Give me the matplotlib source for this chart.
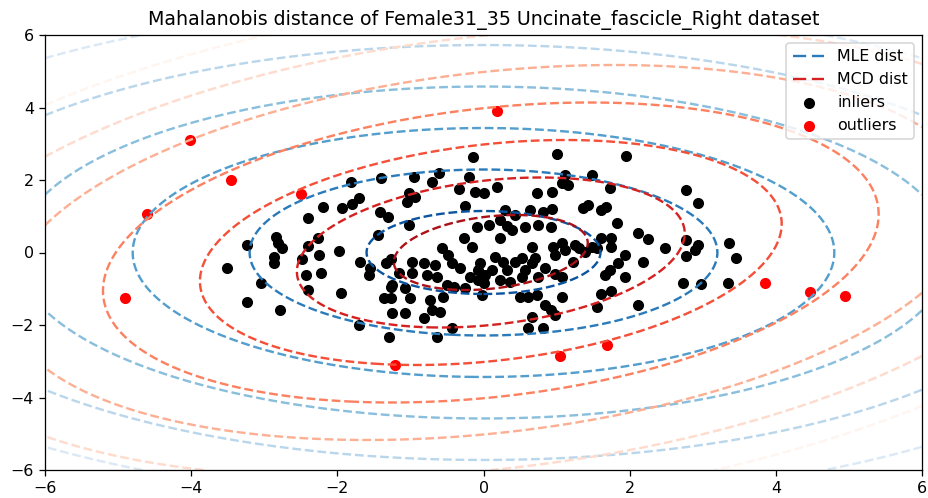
import numpy as np
import matplotlib
matplotlib.use("Agg")
import matplotlib.pyplot as plt

# inliers (x, y)
inliers_x = [-1.81, -1.40, -1.70, -1.80, -1.94, -2.20, -2.40, -1.42, -1.30,
             -2.84, -2.81, -2.76, -3.24, -2.26, -2.40, -2.25, -1.98, -2.86, -2.86,
             -3.51, -2.48, -2.43, -2.23, -1.69, -1.44, -1.34, -1.26, -1.55, -1.57,
             -3.05, -2.40, -1.95, -1.27, -1.36, -1.26, -3.24, -2.79, -1.25, -1.70, -1.29,
             -0.14, 1.01, -0.95, -0.71, -0.61, -0.20, -0.34, -0.12, 0.01, 0.18,
             -1.02, -1.05, -0.94, 0.73, 0.94, -0.25, 0.30, 0.43, 0.64, 0.82, 0.94,
             -1.02, -0.09, 0.07, 0.23, 0.32, 0.57, 0.75, 0.93,
             -0.27, -0.16, 0.23, 1.07, 0.95, 1.11, -0.57, -0.48, -0.43, -0.98, -0.82,
             -0.66, -0.32, -0.05, 0.16, 0.27, 0.32, 0.43, 0.52, 0.66, 0.98, -1.16,
             -0.98, -0.77, -0.64, -0.50, -0.41, -0.18, -0.07, 0.02, 0.00, 0.23, 0.36,
             0.52, 0.57, 0.75, 1.07, -1.25, -1.07, -1.00, -0.73, -0.55, -0.25, -0.02,
             0.50, 0.61, 0.73, 1.07, -0.71, -0.59, -0.82, -1.07, 0.84, 0.93, 0.98,
             0.66, -0.43, -0.64, 0.61, 0.82,
             1.95, 1.11, 1.48, 1.07, 1.16, 1.73, 2.77, 2.93, 1.36, 1.43, 1.61, 1.68, 1.82,
             1.25, 1.39, 1.48, 1.61, 1.75, 1.55, 1.75, 2.11, 2.25, 2.48, 2.77, 2.93,
             2.89, 2.77, 3.36, 3.46, 1.93, 1.84, 1.73, 1.66, 1.93, 1.23, 2.18, 2.73,
             2.98, 3.34, 1.61, 1.75, 1.55, 2.12,
             0.39, 0.66, 0.70, 0.11, -0.07, 1.30, 0.84, 0.98]
inliers_y = [1.94, 2.06, 1.50, 1.34, 1.22, 1.26, 0.96, 1.13, 0.99,
             0.44, 0.27, 0.12, 0.21, 0.39, 0.18, -0.07, 0.05, -0.12, -0.30,
             -0.44, -0.19, -0.62, -0.56, -0.25, 0.48, -0.30, -0.19, -0.44, -0.62,
             -0.83, -1.03, -1.11, -0.94, -1.26, -1.26, -1.37, -1.59, -1.68, -2.00, -2.32,
             2.63, 2.71, 2.09, 1.95, 2.18, 2.09, 1.74, 1.68, 1.63, 1.82,
             1.63, 1.40, 1.52, 1.63, 1.66, 1.28, 1.17, 1.03, 1.17, 1.13, 1.19,
             0.76, 0.71, 0.76, 0.90, 0.73, 0.70, 0.76, 0.70,
             0.39, 0.16, 0.39, 0.25, 0.16, 0.07, 0.12, -0.07, -0.30, -0.25, -0.30,
             -0.34, -0.44, -0.30, -0.12, -0.25, -0.48, -0.25, -0.16, -0.30, -0.07, -0.57,
             -0.57, -0.62, -0.67, -0.90, -0.94, -0.67, -0.48, -0.62, -0.85, -0.76, -0.81,
             -0.67, -0.48, -0.67, -0.67, -0.90, -0.99, -1.26, -1.31, -1.22, -0.99, -1.17,
             -1.22, -1.22, -1.17, -1.22, -1.59, -1.63, -1.82, -1.68, -1.45, -1.59, -1.72,
             -1.77, -2.09, -2.32, -2.09, -2.09,
             2.66, 2.14, 2.14, 1.91, 1.86, 1.77, 1.72, 1.36, 1.22, 1.31, 1.17, 1.26, 0.81,
             0.21, 0.02, 0.16, 0.39, 0.39, 0.12, 0.16, 0.55, 0.36, 0.12, 0.34, 0.21,
             0.07, -0.10, 0.25, -0.16, -0.07, -0.30, -0.48, -0.62, -0.67, -0.25, -0.25, -0.83,
             -0.87, -0.83, -1.15, -1.06, -1.51, -1.46,
             0.62, 0.16, -0.16, -0.48, -0.76, 0.12, -0.44, -0.60]

outliers_x = [0.18, -4.02, -3.45, -2.50, -4.60, -4.90, -1.21, 1.05, 1.69, 3.85, 4.47, 4.94]
outliers_y = [3.90, 3.10, 2.00, 1.61, 1.06, -1.26, -3.10, -2.85, -2.55, -0.84, -1.09, -1.20]

# location / covariance estimated from the ellipses in the picture
mle_mean = [0.0, 0.0]
mle_cov = [[2.56, 0.0], [0.0, 1.31]]
mcd_mean = [0.1, 0.0]
mcd_cov = [[1.76, 0.35], [0.35, 1.07]]
levels = [0, 1, 2, 3, 4, 5, 6, 7]


def mahal(xx, yy, mean, cov):
    d = np.c_[xx.ravel() - mean[0], yy.ravel() - mean[1]]
    inv = np.linalg.inv(np.array(cov))
    m = np.einsum("ij,jk,ik->i", d, inv, d)
    return np.sqrt(m).reshape(xx.shape)


dpi = 114
fig = plt.figure(figsize=(928 / dpi, 498 / dpi), dpi=dpi)
ax = fig.add_axes([45 / 928, 28 / 498, 877 / 928, 435 / 498])

xx, yy = np.meshgrid(np.linspace(-6, 6, 300), np.linspace(-6, 6, 300))
mle_cs = ax.contour(xx, yy, mahal(xx, yy, mle_mean, mle_cov), levels=levels,
                    cmap="Blues_r", linestyles="dashed")
mcd_cs = ax.contour(xx, yy, mahal(xx, yy, mcd_mean, mcd_cov), levels=levels,
                    cmap="Reds_r", linestyles="dashed")

inl = ax.scatter(inliers_x, inliers_y, color="black", label="inliers")
outl = ax.scatter(outliers_x, outliers_y, color="red", label="outliers")

ax.set_xlim(-6, 6)
ax.set_ylim(-6, 6)
ax.set_title("Mahalanobis distance of Female31_35 Uncinate_fascicle_Right dataset")

h_mle = mle_cs.legend_elements()[0][2]
h_mcd = mcd_cs.legend_elements()[0][2]
ax.legend([h_mle, h_mcd, inl, outl], ["MLE dist", "MCD dist", "inliers", "outliers"],
          loc="upper right")

fig.savefig("out.png", dpi=dpi)
